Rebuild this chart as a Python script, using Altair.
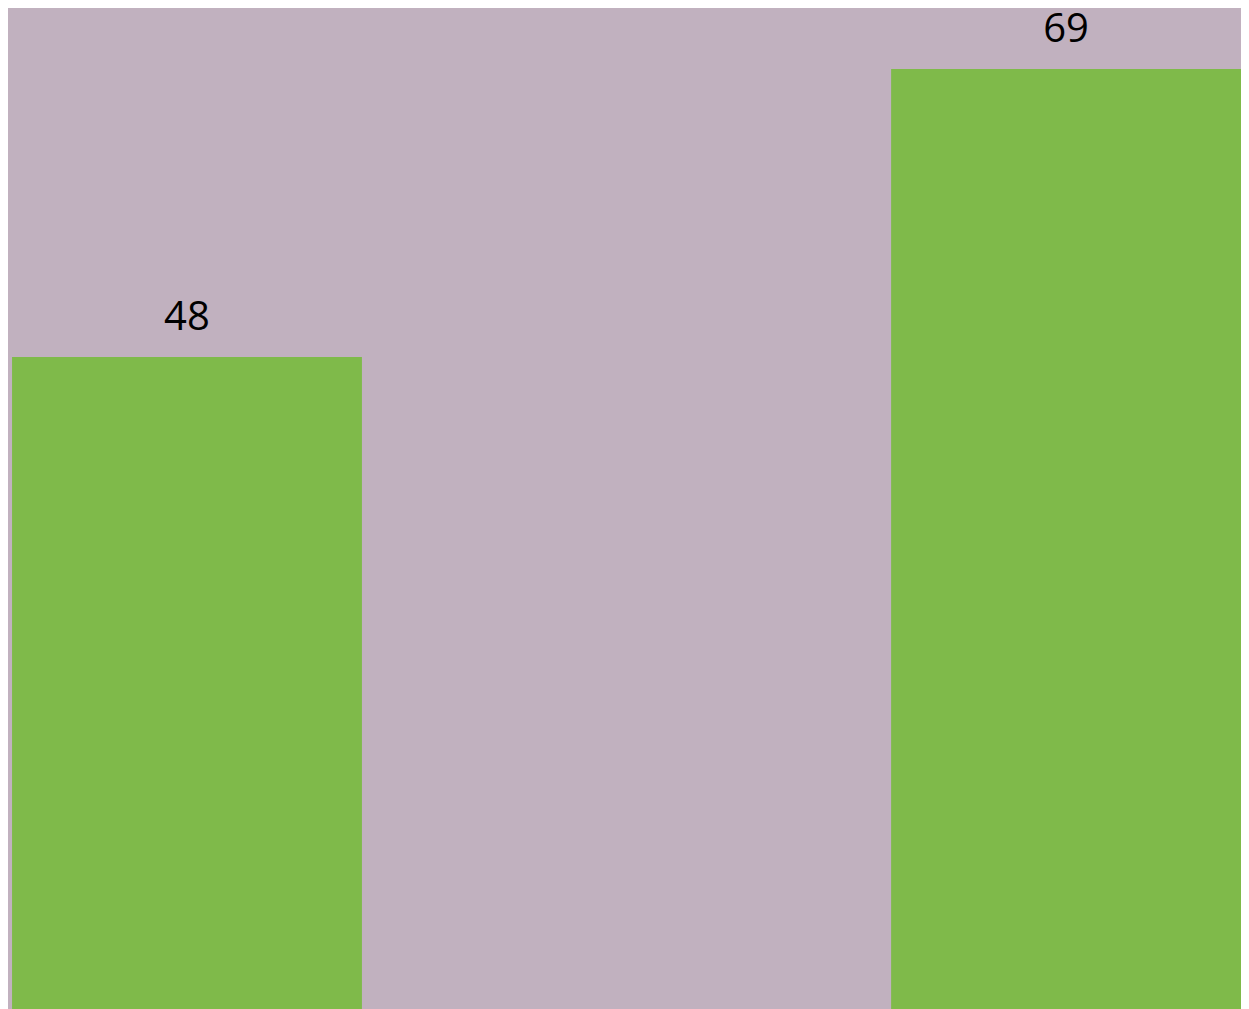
import altair as alt
import pandas as pd

categories = ["A", "B"]
values = [48, 69]

df = pd.DataFrame({"category": categories, "value": values})

x = alt.X("category:N", axis=None,
          scale=alt.Scale(paddingInner=0.602, paddingOuter=0.0023, align=1))
y = alt.Y("value:Q", axis=None, scale=alt.Scale(domain=[0, 73.45], nice=False, zero=True))

bars = alt.Chart(df).mark_bar(color="#7fba4a").encode(x=x, y=y)
labels = alt.Chart(df).mark_text(
    font="Open Sans", fontSize=40, color="#000000", baseline="alphabetic", dy=-27
).encode(x=x, y=y, text="value:Q")

chart = (bars + labels).properties(
    width=1233, height=1007, background="#c1b1bf", padding=0
).configure_view(stroke=None)

chart.save("out.html", embed_options={"renderer": "svg", "actions": False})
